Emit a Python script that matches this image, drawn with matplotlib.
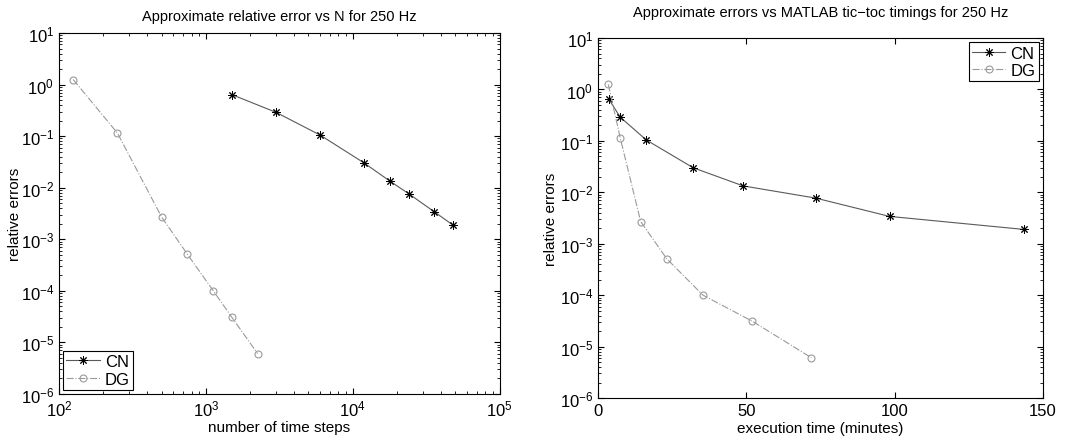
import matplotlib
matplotlib.use("Agg")
import matplotlib.pyplot as plt
from matplotlib.ticker import LogLocator, NullFormatter

plt.rcParams['font.family'] = ['Liberation Sans', 'DejaVu Sans']
plt.rcParams['mathtext.fontset'] = 'custom'
plt.rcParams['mathtext.rm'] = 'Liberation Sans'
plt.rcParams['mathtext.it'] = 'Liberation Sans'
plt.rcParams['axes.unicode_minus'] = True

# number of time steps
cn_steps = [1500, 3000, 6000, 12000, 18000, 24000, 36000, 48000]
dg_steps = [125, 250, 500, 750, 1125, 1500, 2250]
# relative errors
cn_err = [0.64, 0.29, 0.105, 0.03, 0.0133, 0.0077, 0.0034, 0.0019]
dg_err = [1.25, 0.115, 0.0027, 0.00051, 0.0001, 3.1e-5, 6.1e-6]
# execution times (minutes)
cn_time = [3.7, 7.5, 16.2, 32.1, 49.0, 73.5, 98.3, 143.5]
dg_time = [3.5, 7.5, 14.4, 23.2, 35.4, 52.1, 71.9]

cn_color = "#5a5a5a"
dg_color = "#9a9a9a"
star = (8, 2, 0)

fig = plt.figure(figsize=(10.72, 4.39), dpi=100)
ax1 = fig.add_axes([0.055, 0.1002, 0.411, 0.8224])
ax2 = fig.add_axes([0.5578, 0.0911, 0.415, 0.820])


def style(ax, ypad):
    ax.tick_params(which='both', direction='in', top=True, right=True, labelsize=12)
    ax.tick_params(which='major', length=4, width=0.8, pad=3.5)
    ax.tick_params(which='minor', length=2, width=0.6)
    for s in ax.spines.values():
        s.set_linewidth(0.8)
    ax.set_yscale('log')
    ax.set_ylim(1e-6, 10)
    ax.yaxis.set_major_locator(LogLocator(base=10, numticks=20))
    ax.yaxis.set_minor_locator(LogLocator(base=10, subs=range(2, 10), numticks=20))
    ax.yaxis.set_minor_formatter(NullFormatter())
    ax.set_ylabel("relative errors", fontsize=11, labelpad=ypad)


def add_legend(ax, loc):
    leg = ax.legend(loc=loc, fontsize=12, fancybox=False, framealpha=1,
                    edgecolor='black', borderaxespad=0.25, handlelength=2.0,
                    handletextpad=0.3, borderpad=0.2, labelspacing=0.15)
    leg.get_frame().set_linewidth(0.8)


# left panel
ax1.plot(cn_steps, cn_err, color=cn_color, lw=0.8, marker=star, ms=6,
         mec='black', mew=0.7, label="CN")
ax1.plot(dg_steps, dg_err, color=dg_color, lw=0.8, ls='-.', marker='o', ms=5,
         mfc='none', mec=dg_color, mew=0.8, label="DG")
ax1.set_xscale('log')
ax1.set_xlim(100, 1e5)
style(ax1, -1)
ax1.xaxis.set_minor_formatter(NullFormatter())
ax1.set_xlabel("number of time steps", fontsize=11, labelpad=1)
ax1.set_title("Approximate relative error vs N for 250 Hz", fontsize=10.5, pad=9)
add_legend(ax1, 'lower left')

# right panel
ax2.plot(cn_time, cn_err, color=cn_color, lw=0.8, marker=star, ms=6,
         mec='black', mew=0.7, label="CN")
ax2.plot(dg_time, dg_err, color=dg_color, lw=0.8, ls='-.', marker='o', ms=5,
         mfc='none', mec=dg_color, mew=0.8, label="DG")
ax2.set_xlim(0, 150)
ax2.set_xticks([0, 50, 100, 150])
style(ax2, 1)
ax2.set_xlabel("execution time (minutes)", fontsize=11, labelpad=2.5)
ax2.set_title("Approximate errors vs MATLAB tic\u2212toc timings for 250 Hz", fontsize=10.5, pad=16)
add_legend(ax2, 'upper right')

plt.savefig("out.png", dpi=100)
plt.close()
